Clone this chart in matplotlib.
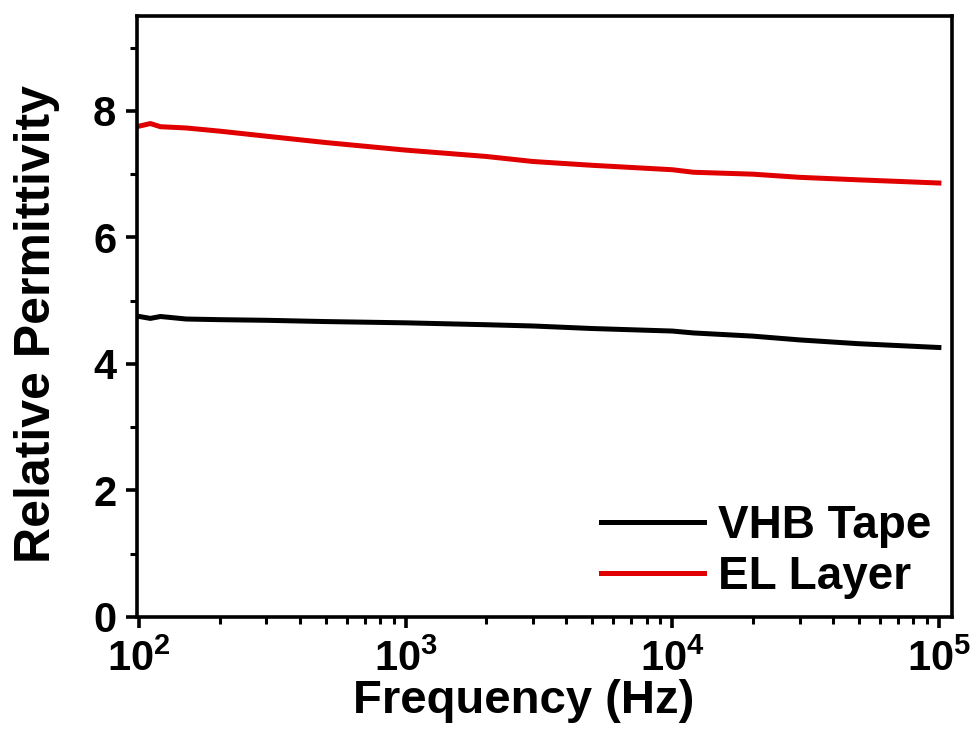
import numpy as np
import matplotlib
matplotlib.use("Agg")
import matplotlib.pyplot as plt
from matplotlib.ticker import LogLocator, MultipleLocator

plt.rcParams['font.family'] = ['Liberation Sans', 'DejaVu Sans']
plt.rcParams['font.weight'] = 'bold'
plt.rcParams['mathtext.default'] = 'bf'

# Data
freq = [100, 110, 120, 150, 200, 300, 500, 1000, 2000, 3000, 5000, 10000,
        12000, 20000, 30000, 50000, 100000]
vhb = [4.75, 4.72, 4.75, 4.71, 4.70, 4.69, 4.67, 4.65, 4.62, 4.60, 4.56, 4.52,
       4.49, 4.44, 4.38, 4.32, 4.26]
el = [7.76, 7.80, 7.75, 7.73, 7.68, 7.60, 7.50, 7.38, 7.28, 7.20, 7.14, 7.07,
      7.03, 7.00, 6.95, 6.91, 6.86]
series_labels = ["VHB Tape", "EL Layer"]

fig = plt.figure(figsize=(9.78, 7.38), dpi=100)
ax = fig.add_axes([137/978, 1-617/738, (952-137)/978, (617-16)/738])

ax.plot(freq, vhb, color="black", lw=3.6, label=series_labels[0])
ax.plot(freq, el, color="#e00000", lw=3.6, label=series_labels[1])

ax.set_xscale("log")
ax.set_xlim(98, 1.12e5)
ax.set_ylim(0, 9.5)
ax.yaxis.set_major_locator(MultipleLocator(2))
ax.yaxis.set_minor_locator(MultipleLocator(1))
ax.xaxis.set_major_locator(LogLocator(base=10, numticks=10))
ax.xaxis.set_minor_locator(LogLocator(base=10, subs=np.arange(2, 10), numticks=10))

for s in ax.spines.values():
    s.set_linewidth(2.6)
ax.tick_params(which="major", direction="out", length=8, width=2.6, labelsize=30, pad=7)
ax.tick_params(which="minor", direction="out", length=5, width=2.2)
ax.tick_params(axis="x", top=False, which="both", pad=8)
ax.tick_params(axis="y", right=False, which="both")

ax.set_xlabel("Frequency (Hz)", fontsize=34, fontweight="bold")
ax.set_ylabel("Relative Permittivity", fontsize=36, fontweight="bold")
ax.xaxis.set_label_coords(0.475, -0.103)
ax.yaxis.set_label_coords(-0.095, 0.4875)

leg = ax.legend(loc="lower right", frameon=False, fontsize=33, handlelength=2.25,
                handletextpad=0.3, labelspacing=0.15, borderaxespad=0.0,
                bbox_to_anchor=(0.997, 0.0))

fig.savefig("out.png", dpi=100)
